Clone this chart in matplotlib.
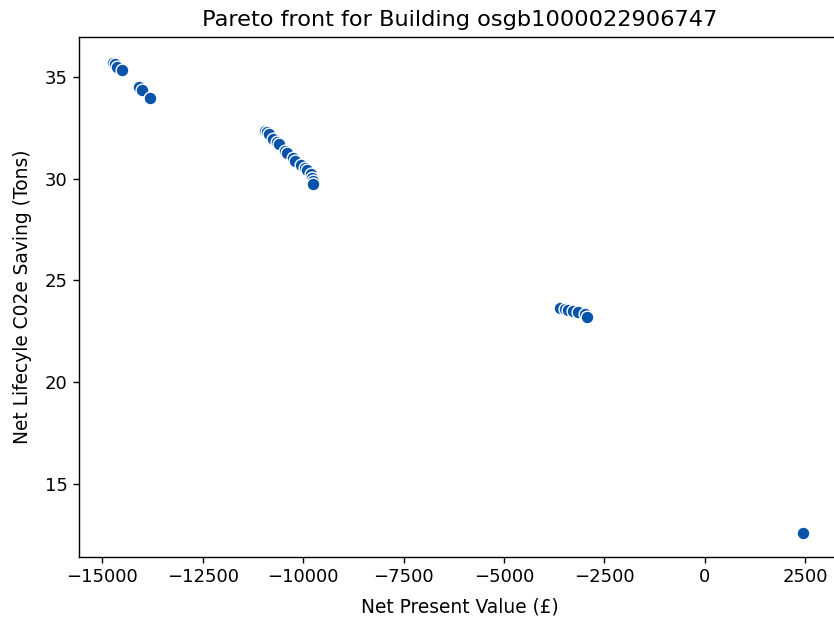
import matplotlib
matplotlib.use("Agg")
import matplotlib.pyplot as plt

# Pareto front points
npv = [
    -14744, -14686, -14629, -14519,
    -14081, -14021, -13814,
    -10950, -10900, -10850, -10750, -10650, -10600, -10450, -10400,
    -10250, -10200, -10050, -9950, -9900, -9800, -9780, -9760, -9750,
    -3603, -3478, -3396, -3272, -3147, -2980, -2938,
    2460,
]
co2_saving = [
    35.69, 35.61, 35.49, 35.33,
    34.51, 34.35, 33.94,
    32.35, 32.30, 32.20, 31.95, 31.80, 31.70, 31.35, 31.25,
    31.00, 30.85, 30.65, 30.50, 30.40, 30.20, 30.05, 29.90, 29.72,
    23.65, 23.59, 23.54, 23.49, 23.43, 23.33, 23.21,
    12.57,
]
building = "osgb1000022906747"

fig = plt.figure(figsize=(8.34, 6.17), dpi=100)
ax = fig.add_axes([0.0947, 0.0972, 0.9125, 0.8428])
ax.scatter(npv, co2_saving, s=85, color="#0853aa", edgecolor="white", linewidth=1.0, zorder=3)

ax.set_xlim(-15583, 3371)
ax.set_ylim(11.41, 36.95)
ax.set_xticks([-15000, -12500, -10000, -7500, -5000, -2500, 0, 2500])
ax.set_yticks([15, 20, 25, 30, 35])
ax.tick_params(labelsize=13, length=4.5, width=1.0)
for sp in ax.spines.values():
    sp.set_linewidth(1.0)

ax.set_xlabel("Net Present Value (£)", fontsize=13.4, labelpad=8)
ax.set_ylabel("Net Lifecyle C02e Saving (Tons)", fontsize=13.4, labelpad=9.5)
ax.set_title("Pareto front for Building " + building, fontsize=16.2, pad=7.8)

fig.savefig("out.png", dpi=100)
